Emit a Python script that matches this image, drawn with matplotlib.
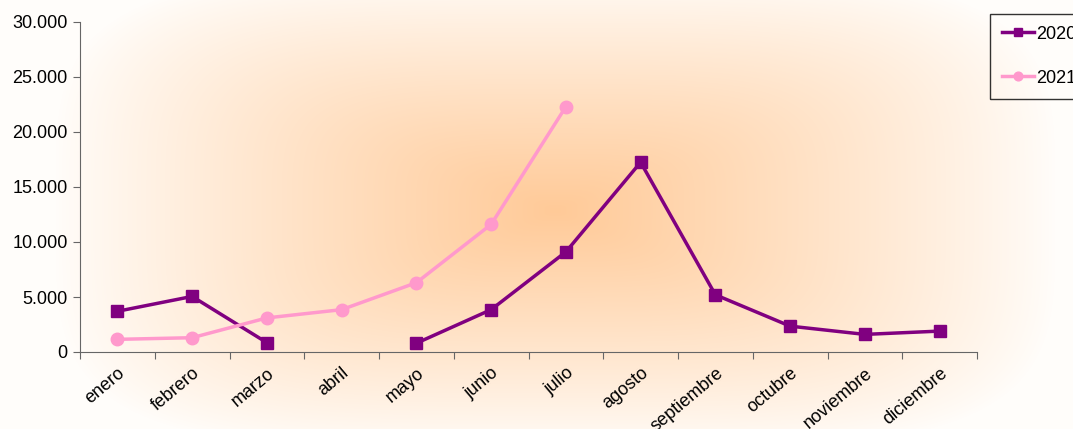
import numpy as np
import matplotlib.pyplot as plt
from matplotlib.ticker import FuncFormatter

plt.rcParams['font.family'] = ['Liberation Sans', 'DejaVu Sans']

meses = ['enero', 'febrero', 'marzo', 'abril', 'mayo', 'junio', 'julio',
         'agosto', 'septiembre', 'octubre', 'noviembre', 'diciembre']
v2020 = [3700, 5050, 850, np.nan, 800, 3850, 9100, 17250, 5200, 2350, 1600, 1900]
v2021 = [1150, 1300, 3100, 3850, 6300, 11600, 22300]

fig = plt.figure(figsize=(10.73, 4.29), dpi=100)

# fondo degradado desde el centro
W, H = 1073, 429
xx, yy = np.meshgrid(np.arange(W), np.arange(H))
dx = np.abs(xx - 555) / 500.0
dy = np.abs(yy - 210) / 240.0
d = np.clip((dx ** 4 + dy ** 4) ** 0.25, 0, 1)
t = np.clip(1 - d, 0, 1) ** 0.9
centro = np.array([255, 202, 152]) / 255.0
borde = np.array([255, 253, 250]) / 255.0
img = borde[None, None, :] * (1 - t[..., None]) + centro[None, None, :] * t[..., None]
bg = fig.add_axes([0, 0, 1, 1])
bg.imshow(img, aspect='auto', extent=[0, 1, 0, 1])
bg.axis('off')

ax = fig.add_axes([80 / W, (H - 352) / H, 897 / W, 330 / H])
ax.patch.set_alpha(0)
x = np.arange(len(meses))
ax.plot(x, v2020, color='#800080', lw=2.5, marker='s', ms=9, label='2020')
ax.plot(x[:len(v2021)], v2021, color='#FF99CC', lw=2.5, marker='o', ms=9, label='2021')

ax.set_xlim(-0.5, 11.5)
ax.set_ylim(0, 30000)
ax.set_yticks(np.arange(0, 30001, 5000))
ax.yaxis.set_major_formatter(FuncFormatter(lambda v, p: f'{int(v):,}'.replace(',', '.')))
ax.set_xticks(np.arange(-0.5, 12, 1))
ax.set_xticklabels([])
ax.set_xticks(x, minor=True)
ax.set_xticklabels(meses, minor=True, rotation=40, ha='right', va='top', rotation_mode='anchor')
ax.tick_params(axis='x', which='minor', length=0, pad=9, labelsize=13)
ax.tick_params(axis='x', which='major', length=5, color='#666666', direction='out')
ax.tick_params(axis='y', length=5, color='#666666', labelsize=13, pad=4)
for s in ['top', 'right']:
    ax.spines[s].set_visible(False)
for s in ['left', 'bottom']:
    ax.spines[s].set_color('#666666')

leg = fig.legend(loc='upper left', bbox_to_anchor=(990 / W, 1 - 14 / H),
                 frameon=True, fancybox=False, edgecolor='black', fontsize=13,
                 labelspacing=1.5, handlelength=1.8, handletextpad=0.1,
                 borderpad=0.65, borderaxespad=0, markerscale=0.7)
leg.get_frame().set_facecolor('none')

fig.savefig('out.png', dpi=100)
